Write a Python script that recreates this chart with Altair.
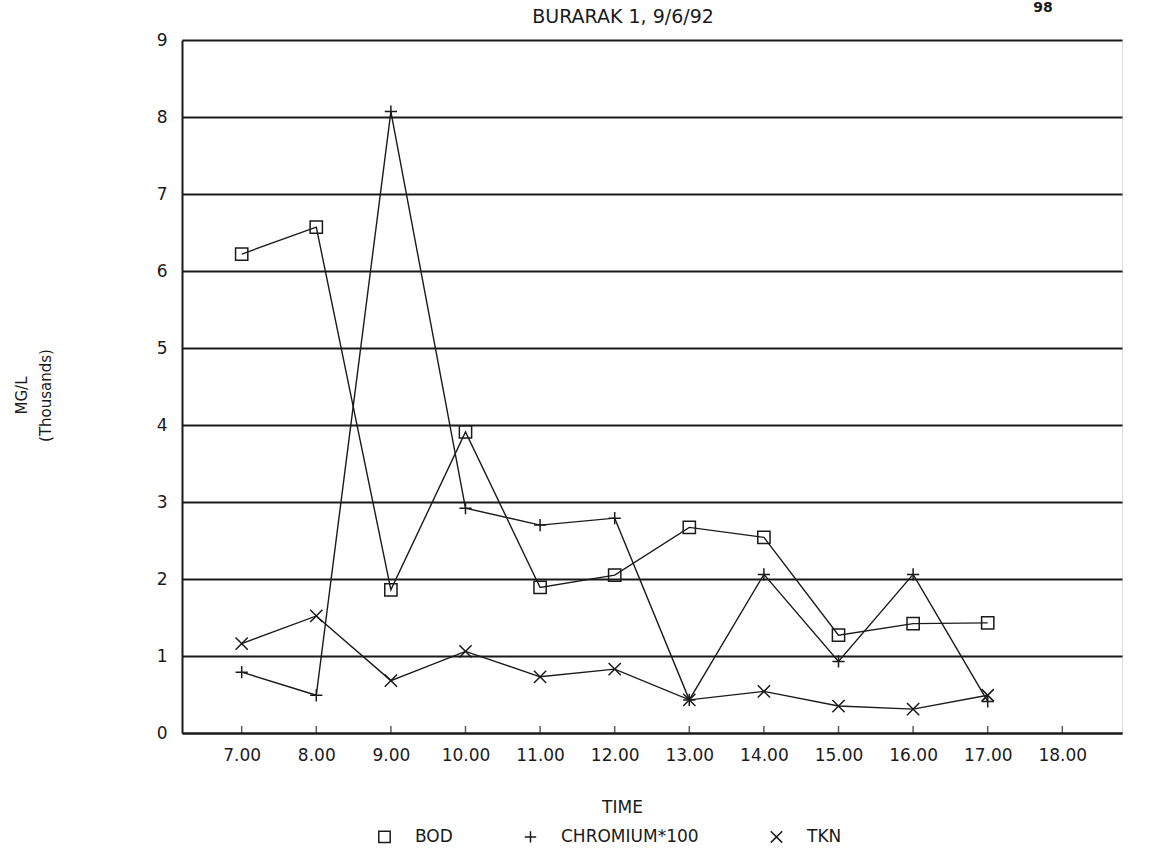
import altair as alt
import pandas as pd

# Sampling times (hourly) shown on the x axis
times = ["7.00", "8.00", "9.00", "10.00", "11.00", "12.00",
         "13.00", "14.00", "15.00", "16.00", "17.00", "18.00"]
sampled = times[:11]

# Concentrations, MG/L in thousands
bod = [6.22, 6.57, 1.86, 3.91, 1.89, 2.05, 2.67, 2.54, 1.27, 1.42, 1.43]
chromium_x100 = [0.79, 0.49, 8.07, 2.92, 2.70, 2.79, 0.43, 2.06, 0.93, 2.06, 0.41]
tkn = [1.16, 1.52, 0.68, 1.06, 0.73, 0.83, 0.43, 0.54, 0.35, 0.31, 0.49]

series_names = ["BOD", "CHROMIUM*100", "TKN"]
series_values = [bod, chromium_x100, tkn]
y_ticks = list(range(0, 10))

chart_title = "BURARAK 1, 9/6/92"
page_number = "98"

rows = []
for name, vals in zip(series_names, series_values):
    for t, v in zip(sampled, vals):
        rows.append({"time": t, "value": v, "series": name})
df = pd.DataFrame(rows)
tick_df = pd.DataFrame({"time": times})

FONT = "DejaVu Sans"
INK = "#1a1a1a"

x_enc = alt.X(
    "time:N",
    sort=times,
    scale=alt.Scale(type="point", domain=times, padding=0.8),
    axis=alt.Axis(
        title="TIME", titleX=440, titleY=74, titleBaseline="middle",
        titleFont=FONT, titleFontSize=17, titleFontWeight="normal", titleColor=INK,
        labelAngle=0, labelFont=FONT, labelFontSize=17, labelColor=INK,
        labelPadding=14, ticks=False, domainColor=INK, domainWidth=2,
        grid=False,
    ),
)
y_enc = alt.Y(
    "value:Q",
    scale=alt.Scale(domain=[0, 9], nice=False, zero=True),
    axis=alt.Axis(
        title=["MG/L", "(Thousands)"], titleX=-161, titleY=355,
        titleAngle=-90, titleAlign="center", titleBaseline="middle",
        titleLineHeight=24, titleFont=FONT, titleFontSize=15,
        titleFontWeight="normal", titleColor=INK,
        values=y_ticks, format="d", labelFont=FONT, labelFontSize=17,
        labelColor=INK, labelPadding=15, ticks=False,
        domainColor=INK, domainWidth=2,
        grid=True, gridColor=INK, gridWidth=2, gridOpacity=1,
    ),
)

shape_scale = alt.Scale(
    domain=series_names,
    range=["square", "M-1,0L1,0M0,-1L0,1", "M-1,-1L1,1M-1,1L1,-1"],
)

lines = alt.Chart(df).mark_line(color=INK, strokeWidth=1.4).encode(
    x=x_enc, y=y_enc, detail="series:N"
)

points = alt.Chart(df).mark_point(
    filled=False, color=INK, strokeWidth=1.5, size=150, opacity=1
).encode(
    x=x_enc,
    y=y_enc,
    shape=alt.Shape(
        "series:N",
        scale=shape_scale,
        sort=series_names,
        legend=alt.Legend(
            title=None, orient="none", direction="horizontal",
            legendX=194, legendY=788, columnPadding=68, labelOffset=22,
            labelFont=FONT, labelFontSize=17, labelColor=INK,
            symbolStrokeColor=INK, symbolFillColor="transparent",
            symbolStrokeWidth=1.5, symbolSize=130,
        ),
    ),
)

# Small inward tick marks along the time axis
ticks = alt.Chart(tick_df).mark_tick(
    orient="vertical", size=14, thickness=1.5, color=INK, clip=True
).encode(x=x_enc, y=alt.datum(0))

# Heading above the plot and the page number in the top-right corner
heading = alt.Chart(tick_df.head(1)).mark_text(
    text=chart_title, font=FONT, fontSize=19, color=INK,
    baseline="alphabetic", align="center",
).encode(x=alt.value(441), y=alt.value(-17))

page_no = alt.Chart(tick_df.head(1)).mark_text(
    text=page_number, font=FONT, fontSize=14, fontWeight="bold", color=INK,
    baseline="alphabetic", align="center",
).encode(x=alt.value(861), y=alt.value(-28))

chart = alt.layer(lines, points, ticks, heading, page_no).properties(
    width=940,
    height=693,
    autosize=alt.AutoSizeParams(type="none"),
    padding={"left": 182, "top": 40, "right": 36, "bottom": 123},
).configure_view(
    stroke=INK, strokeWidth=1.5
).configure(background="white")

chart.save("out.html", embed_options={"renderer": "svg", "actions": False})
